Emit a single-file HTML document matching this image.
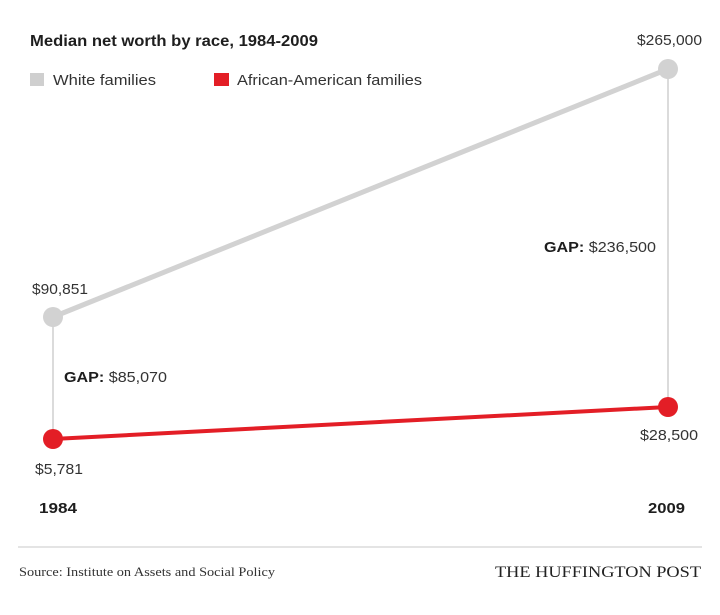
<!DOCTYPE html>
<html>
<head>
<meta charset="utf-8">
<style>
html,body{margin:0;padding:0;background:#fff;}
svg{display:block;}
text{font-family:"Liberation Sans",sans-serif;}
</style>
</head>
<body>
<svg width="720" height="615" viewBox="0 0 720 615" xmlns="http://www.w3.org/2000/svg">
<rect width="720" height="615" fill="#fff"/>
<text x="30" y="46" font-size="16" font-weight="bold" fill="#1e1e1e" textLength="288" lengthAdjust="spacingAndGlyphs">Median net worth by race, 1984-2009</text>
<rect x="30" y="73" width="14" height="13" fill="#cfcfcf"/>
<text x="53" y="85" font-size="15" fill="#333" textLength="103" lengthAdjust="spacingAndGlyphs">White families</text>
<rect x="214" y="73" width="15" height="13" fill="#e31e26"/>
<text x="237" y="85" font-size="15" fill="#333" textLength="185" lengthAdjust="spacingAndGlyphs">African-American families</text>

<line x1="53" y1="317" x2="53" y2="439" stroke="#cfcfcf" stroke-width="1.5"/>
<line x1="668" y1="69" x2="668" y2="407" stroke="#cfcfcf" stroke-width="1.5"/>
<line x1="53" y1="317" x2="668" y2="69" stroke="#d2d2d2" stroke-width="5"/>
<line x1="53" y1="439" x2="668" y2="407" stroke="#e31e26" stroke-width="4"/>
<circle cx="53" cy="317" r="10" fill="#d2d2d2"/>
<circle cx="668" cy="69" r="10" fill="#d2d2d2"/>
<circle cx="53" cy="439" r="10" fill="#e31e26"/>
<circle cx="668" cy="407" r="10" fill="#e31e26"/>

<text x="32" y="294" font-size="15" fill="#333" textLength="56" lengthAdjust="spacingAndGlyphs">$90,851</text>
<text x="64" y="382" font-size="15" fill="#333" textLength="103" lengthAdjust="spacingAndGlyphs"><tspan font-weight="bold" fill="#1e1e1e">GAP:</tspan> $85,070</text>
<text x="35" y="474" font-size="15" fill="#333" textLength="48" lengthAdjust="spacingAndGlyphs">$5,781</text>
<text x="39" y="513" font-size="15" font-weight="bold" fill="#1e1e1e" textLength="38" lengthAdjust="spacingAndGlyphs">1984</text>

<text x="637" y="45" font-size="15" fill="#333" textLength="65" lengthAdjust="spacingAndGlyphs">$265,000</text>
<text x="544" y="252" font-size="15" fill="#333" textLength="112" lengthAdjust="spacingAndGlyphs"><tspan font-weight="bold" fill="#1e1e1e">GAP:</tspan> $236,500</text>
<text x="640" y="440" font-size="15" fill="#333" textLength="58" lengthAdjust="spacingAndGlyphs">$28,500</text>
<text x="648" y="513" font-size="15" font-weight="bold" fill="#1e1e1e" textLength="37" lengthAdjust="spacingAndGlyphs">2009</text>

<line x1="18" y1="547" x2="702" y2="547" stroke="#c8c8c8" stroke-width="1"/>
<text x="19" y="576" font-size="13" fill="#333" style="font-family:'Liberation Serif',serif" textLength="256" lengthAdjust="spacingAndGlyphs">Source: Institute on Assets and Social Policy</text>
<text x="495" y="577" font-size="16" fill="#222" style="font-family:'Liberation Serif',serif" textLength="206" lengthAdjust="spacingAndGlyphs">THE HUFFINGTON POST</text>
</svg>
</body>
</html>
